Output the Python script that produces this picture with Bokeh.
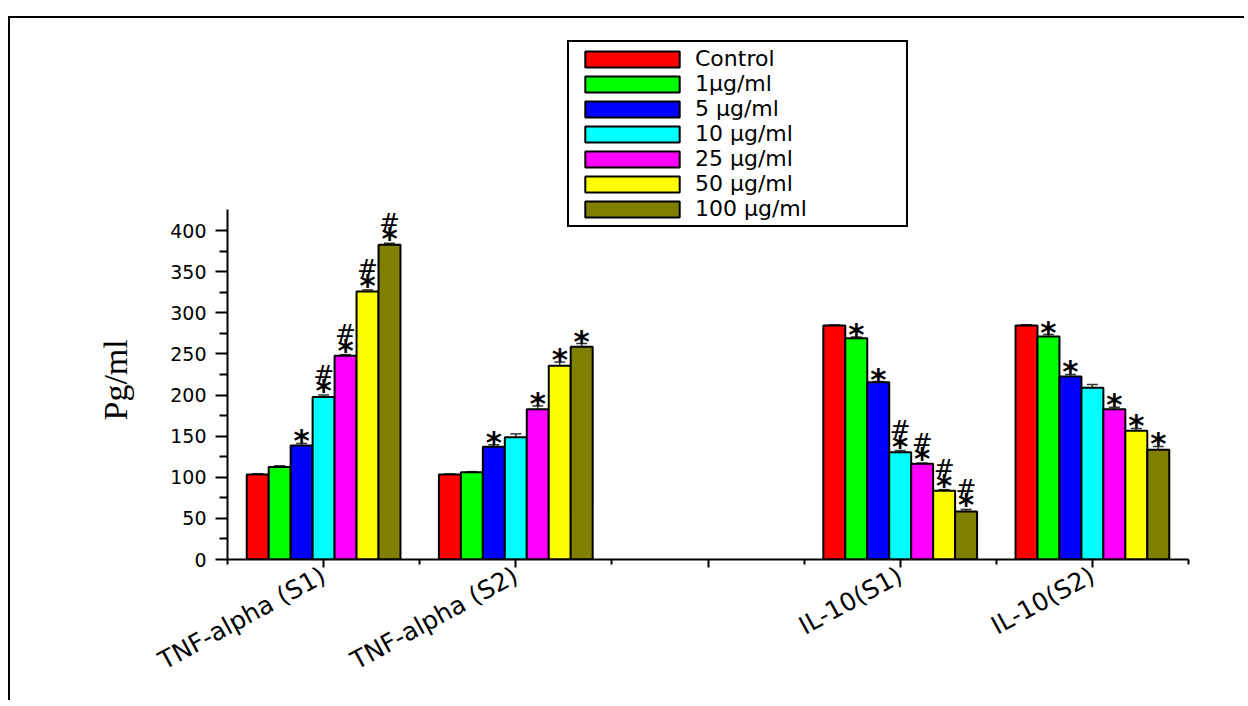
from bokeh.plotting import figure
from bokeh.models import (Range1d, FixedTicker, ColumnDataSource, Whisker, TeeHead,
                          Legend, LegendItem, Title)
from bokeh.core.properties import value
from bokeh.embed import file_html
from bokeh.resources import INLINE

# ---------------- data ----------------
x_labels = ["TNF-alpha (S1)", "TNF-alpha (S2)", "", "IL-10(S1)", "IL-10(S2)"]
data_groups = ["TNF-alpha (S1)", "TNF-alpha (S2)", "IL-10(S1)", "IL-10(S2)"]

series_names = ["Control", "1\u03bcg/ml", "5 \u03bcg/ml", "10 \u03bcg/ml",
                "25 \u03bcg/ml", "50 \u03bcg/ml", "100 \u03bcg/ml"]
series_colors = ["#ff0000", "#00ff00", "#0000ff", "#00ffff", "#ff00ff", "#ffff00", "#808000"]

control = [103.3, 103.3, 284.5, 284.5]
c1 = [112.5, 106.0, 269.0, 271.0]
c5 = [138.6, 137.0, 215.6, 222.5]
c10 = [197.5, 148.7, 130.5, 208.7]
c25 = [247.6, 182.7, 116.3, 182.7]
c50 = [325.8, 235.5, 83.5, 156.4]
c100 = [382.6, 258.6, 58.4, 133.4]

control_err = [1.0, 0.8, 0.8, 0.8]
c1_err = [1.5, 0.8, 1.5, 2.5]
c5_err = [2.5, 2.5, 0.8, 2.5]
c10_err = [2.5, 4.0, 2.0, 4.0]
c25_err = [1.5, 4.0, 1.0, 2.5]
c50_err = [2.0, 4.5, 1.5, 3.0]
c100_err = [2.0, 4.0, 2.5, 4.0]

control_sig = ["", "", "", ""]
c1_sig = ["", "", "*", "*"]
c5_sig = ["*", "*", "*", "*"]
c10_sig = ["*#", "", "*#", ""]
c25_sig = ["*#", "*", "*#", "*"]
c50_sig = ["*#", "*", "*#", "*"]
c100_sig = ["*#", "*", "*#", "*"]

y_ticks = [0, 50, 100, 150, 200, 250, 300, 350, 400]
y_minor = [25, 75, 125, 175, 225, 275, 325, 375]
y_axis_end = 425

values = [control, c1, c5, c10, c25, c50, c100]
errors = [control_err, c1_err, c5_err, c10_err, c25_err, c50_err, c100_err]
sigs = [control_sig, c1_sig, c5_sig, c10_sig, c25_sig, c50_sig, c100_sig]

# ---------------- figure ----------------
W, H = 1236, 684
frame_left, frame_right = 217, 1178        # canvas px
frame_top, frame_bottom = 12, 541          # canvas px
px_per_unit = 329 / 400
y_top = (frame_bottom - frame_top) / px_per_unit

p = figure(width=W, height=H, output_backend="svg", toolbar_location=None,
           x_range=Range1d(0.5, 5.5), y_range=Range1d(0, y_top),
           min_border_left=frame_left, min_border_right=W - frame_right,
           min_border_top=frame_top, min_border_bottom=H - frame_bottom)
p.styles = {"margin-top": "16px", "margin-left": "8px",
            "border-top": "2px solid black", "border-left": "2px solid black"}
p.grid.visible = False
p.outline_line_color = None
p.background_fill_color = "white"
p.border_fill_color = "white"

group_pos = [x_labels.index(g) + 1 for g in data_groups]
n = len(series_names)
bw = 0.8 / n

legend_items = []
star_x, star_y, star_off = [], [], []
hash_x, hash_y = [], []
for i, (name, col, vals, errs, sg) in enumerate(zip(series_names, series_colors, values, errors, sigs)):
    xs = [gp + (i - (n - 1) / 2) * bw for gp in group_pos]
    src = ColumnDataSource(dict(x=xs, top=vals, upper=[v + e for v, e in zip(vals, errs)]))
    r = p.vbar(x="x", top="top", width=bw, source=src, fill_color=col,
               line_color="black", line_width=2)
    legend_items.append(LegendItem(label=name, renderers=[r]))
    wk = Whisker(source=src, base="x", upper="upper", lower="top", line_color="#333333",
                 line_width=1.5, upper_head=TeeHead(size=11, line_color="#333333", line_width=1.5),
                 lower_head=None)
    p.add_layout(wk)
    for x, v, e, s in zip(xs, vals, errs, sg):
        if "*" in s:
            star_x.append(x)
            star_y.append(v + e)
            star_off.append(-5 if "#" in s else -3)
        if "#" in s:
            hash_x.append(x)
            hash_y.append(v + e)

p.text(x=star_x, y=star_y, text=["*"] * len(star_x), y_offset=star_off,
       text_align="center", text_baseline="middle", text_font=value("DejaVu Sans"),
       text_font_size="31px", text_font_style="bold", text_color="black")
p.text(x=hash_x, y=hash_y, text=["#"] * len(hash_x), y_offset=-21,
       text_align="center", text_baseline="middle", text_font=value("DejaVu Sans"),
       text_font_size="25px", text_color="black")

legend = Legend(items=legend_items, location=(340, 332))
legend.glyph_width = 118
legend.glyph_height = 20
legend.label_height = 20
legend.label_width = 207
legend.label_standoff = 4
legend.spacing = 0
legend.padding = 4
legend.margin = 0
legend.label_text_font = "DejaVu Sans"
legend.label_text_font_size = "22px"
legend.label_text_color = "black"
legend.border_line_color = "black"
legend.border_line_alpha = 1.0
legend.border_line_width = 2
legend.background_fill_alpha = 1.0
p.add_layout(legend, "center")

# ---------------- axes ----------------
xa = p.xaxis[0]
xa.ticker = FixedTicker(ticks=[1, 2, 3, 4, 5], minor_ticks=[0.5, 1.5, 2.5, 3.5, 4.5, 5.5])
xa.major_label_overrides = {i + 1: lab for i, lab in enumerate(x_labels)}
xa.major_label_orientation = 0.5
xa.major_label_text_font = "DejaVu Sans"
xa.major_label_text_font_size = "25px"
xa.major_label_text_color = "black"
xa.major_label_standoff = 6
xa.axis_line_width = 2
xa.axis_line_color = "black"
xa.major_tick_out = 8
xa.major_tick_in = 0
xa.minor_tick_out = 5
xa.minor_tick_in = 0
xa.major_tick_line_width = 2
xa.minor_tick_line_width = 2

ya = p.yaxis[0]
ya.bounds = (0, y_axis_end)
ya.ticker = FixedTicker(ticks=y_ticks, minor_ticks=y_minor)
ya.major_label_text_font = "DejaVu Sans"
ya.major_label_text_font_size = "19px"
ya.major_label_text_color = "black"
ya.major_label_standoff = 9
ya.axis_line_width = 2
ya.axis_line_color = "black"
ya.major_tick_out = 12
ya.major_tick_in = 0
ya.minor_tick_out = 8
ya.minor_tick_in = 0
ya.major_tick_line_width = 2
ya.minor_tick_line_width = 2

# y-axis title, centred on the 0-425 part of the axis
ytitle = Title(text="Pg/ml", align="left", offset=139, standoff=68,
               text_font="Liberation Serif", text_font_size="34px",
               text_font_style="normal", text_color="black")
p.add_layout(ytitle, "left")

open("out.html", "w").write(file_html(p, INLINE))
